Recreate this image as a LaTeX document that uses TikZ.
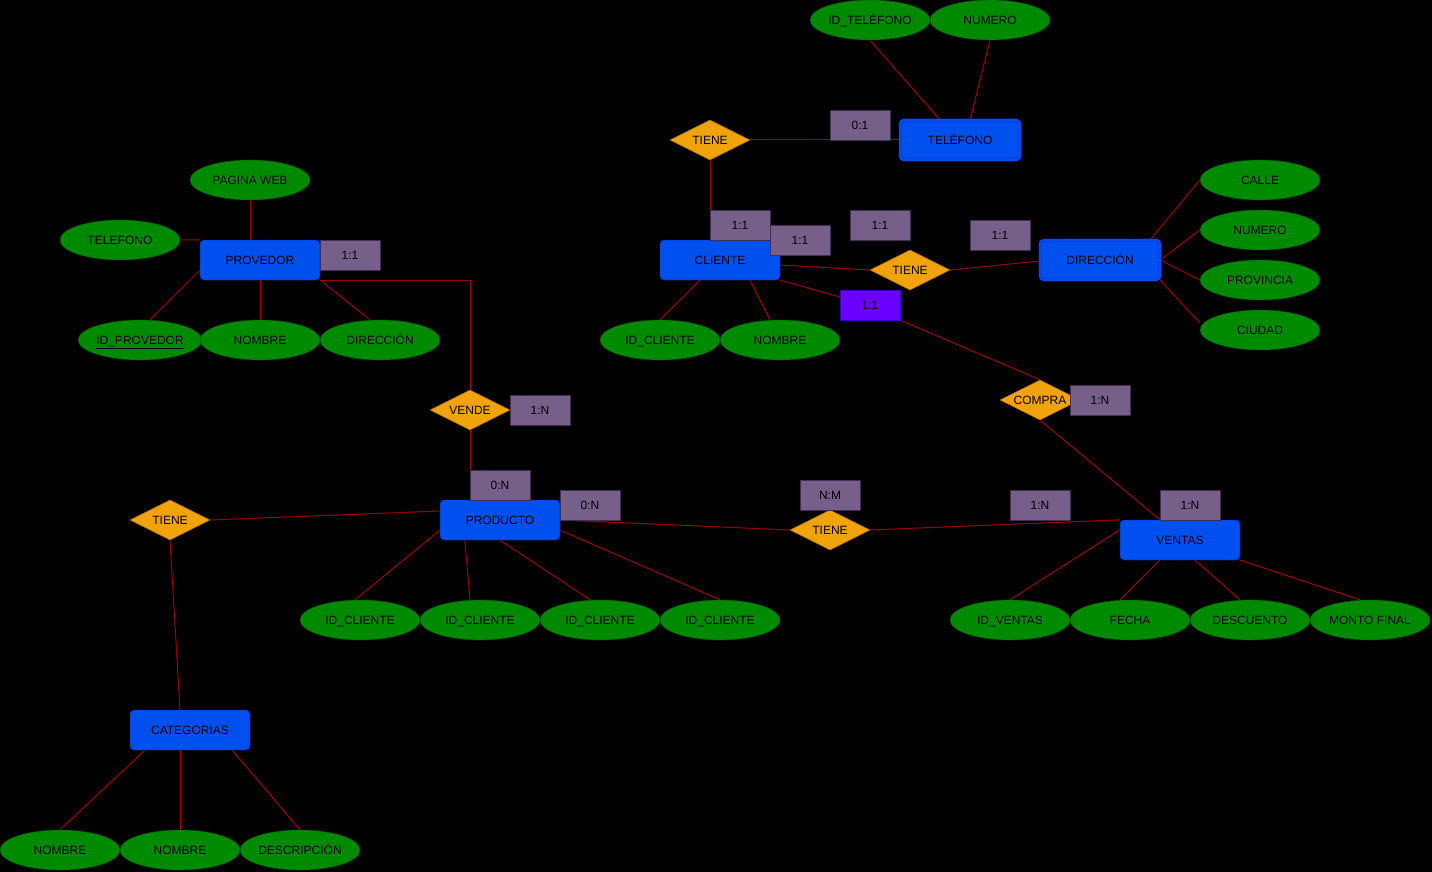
\documentclass[tikz,border=0pt]{standalone}
\usepackage{fontspec}
\setmainfont{Liberation Sans}
\usepackage{tikz}
\usetikzlibrary{shapes.geometric,backgrounds}
\definecolor{entfill}{HTML}{0050EF}
\definecolor{entdraw}{HTML}{001DBC}
\definecolor{attfill}{HTML}{008A00}
\definecolor{attdraw}{HTML}{005700}
\definecolor{relfill}{HTML}{F0A30A}
\definecolor{reldraw}{HTML}{BD7000}
\definecolor{cardfill}{HTML}{76608A}
\definecolor{carddraw}{HTML}{432D57}
\definecolor{hotfill}{HTML}{6A00FF}
\definecolor{hotdraw}{HTML}{3700CC}
\definecolor{linkred}{HTML}{A00000}
\newcommand{\rname}[1]{\makebox[0pt]{#1}}

\begin{document}
\begin{tikzpicture}[
  x=1pt, y=-1pt,
  every node/.style={font=\fontsize{12}{14}\selectfont, text=black, text height=8.6pt, text depth=0pt},
  entity/.style={draw=entdraw, fill=entfill, rounded corners=4pt, minimum width=120pt, minimum height=40pt, inner sep=0pt},
  weak/.style={entity, double=entfill, double distance=2pt},
  attr/.style={ellipse, draw=attdraw, fill=attfill, minimum width=120pt, minimum height=40pt, inner sep=0pt},
  rel/.style={diamond, draw=reldraw, fill=relfill, minimum width=80pt, minimum height=40pt, inner sep=0pt},
  card/.style={draw=carddraw, fill=cardfill, minimum width=60pt, minimum height=30pt, inner sep=0pt},
  hot/.style={card, draw=hotdraw, fill=hotfill},
  link/.style={draw=linkred, line width=1pt}
]
\useasboundingbox (0,0) rectangle (1432,872);

% Entities
\node[entity] (provedor) at (260,260) {PROVEDOR};
\node[entity] (producto) at (500,520) {PRODUCTO};
\node[entity] (cliente) at (720,260) {CLIENTE};
\node[weak] (telefono) at (960,140) {TELÉFONO};
\node[weak] (direccion) at (1100,260) {DIRECCIÓN};
\node[entity] (ventas) at (1180,540) {VENTAS};
\node[entity] (categorias) at (190,730) {CATEGORIAS};

% Relations
\node[rel] (tieneTel) at (710,140) {\rname{TIENE}};
\node[rel] (tieneDir) at (910,270) {\rname{TIENE}};
\node[rel] (vende) at (470,410) {\rname{VENDE}};
\node[rel] (compra) at (1040,400) {\rname{COMPRA}};
\node[rel] (tieneProd) at (830,530) {\rname{TIENE}};
\node[rel] (tieneCat) at (170,520) {\rname{TIENE}};

% Attributes
\node[attr] (aPagina) at (250,180) {PAGINA WEB};
\node[attr] (aTelefono) at (120,240) {TELEFONO};
\node[attr] (aIdProv) at (140,340) {\underline{ID\_PROVEDOR}};
\node[attr] (aNomProv) at (260,340) {NOMBRE};
\node[attr] (aDirProv) at (380,340) {DIRECCIÓN};
\node[attr] (aIdTel) at (870,20) {ID\_TELÉFONO};
\node[attr] (aNumTel) at (990,20) {NUMERO};
\node[attr] (aIdCli) at (660,340) {ID\_CLIENTE};
\node[attr] (aNomCli) at (780,340) {NOMBRE};
\node[attr] (aCalle) at (1260,180) {CALLE};
\node[attr] (aNumero) at (1260,230) {NUMERO};
\node[attr] (aProvincia) at (1260,280) {PROVINCIA};
\node[attr] (aCiudad) at (1260,330) {CIUDAD};
\node[attr] (aIdProd1) at (360,620) {ID\_CLIENTE};
\node[attr] (aIdProd2) at (480,620) {ID\_CLIENTE};
\node[attr] (aIdProd3) at (600,620) {ID\_CLIENTE};
\node[attr] (aIdProd4) at (720,620) {ID\_CLIENTE};
\node[attr] (aIdVen) at (1010,620) {ID\_VENTAS};
\node[attr] (aFecha) at (1130,620) {FECHA};
\node[attr] (aDesc) at (1250,620) {DESCUENTO};
\node[attr] (aMonto) at (1370,620) {MONTO FINAL};
\node[attr] (aNomCat1) at (60,850) {NOMBRE};
\node[attr] (aNomCat2) at (180,850) {NOMBRE};
\node[attr] (aDescCat) at (300,850) {DESCRIPCIÓN};

% Cardinalities
\node[card] (cTel) at (860,125) {0:1};
\node[card] (cCli1) at (740,225) {1:1};
\node[card] (cCli2) at (800,240) {1:1};
\node[card] (cDir1) at (880,225) {1:1};
\node[card] (cDir2) at (1000,235) {1:1};
\node[hot] (cCompraCli) at (870,305) {1:1};
\node[card] (cProv) at (350,255) {1:1};
\node[card] (cVende) at (540,410) {1:N};
\node[card] (cProd1) at (500,485) {0:N};
\node[card] (cProd2) at (590,505) {0:N};
\node[card] (cNM) at (830,495) {N:M};
\node[card] (cCompra) at (1100,400) {1:N};
\node[card] (cVen1) at (1040,505) {1:N};
\node[card] (cVen2) at (1190,505) {1:N};

\begin{scope}[on background layer]
\fill[black] (0,0) rectangle (1432,872);
% Links
\draw[link] ([xshift=-10pt]provedor.north) -- (aPagina.south);
\draw[link] (aTelefono.east) -- (provedor.north west);
\draw[link] ([yshift=10pt]provedor.south west) -- ([xshift=10pt]aIdProv.north);
\draw[link] (provedor.south) -- (aNomProv.north);
\draw[link] (provedor.south east) -- ([xshift=-10pt]aDirProv.north);
\draw[link] (provedor.south east) -| (vende.north);
\draw[link] (vende.south) -- ([xshift=-30pt]producto.north);
\draw[link] (tieneCat.east) -- ([yshift=9pt]producto.west);
\draw[link] (tieneCat.south) -- ([xshift=-10pt]categorias.north);
\draw[link] ([xshift=15pt]categorias.south west) -- (aNomCat1.north);
\draw[link] ([xshift=-10pt]categorias.south) -- (aNomCat2.north);
\draw[link] ([xshift=-18pt]categorias.south east) -- (aDescCat.north);
\draw[link] ([yshift=10pt]producto.south west) -- ([xshift=-5pt]aIdProd1.north);
\draw[link] ([xshift=25pt]producto.south west) -- ([xshift=-10pt]aIdProd2.north);
\draw[link] (producto.south) -- ([xshift=-10pt]aIdProd3.north);
\draw[link] ([yshift=10pt]producto.south east) -- (aIdProd4.north);
\draw[link] (producto.east) -- (tieneProd.west);
\draw[link] (tieneProd.east) -- (ventas.north west);
\draw[link] (compra.south) -- ([xshift=-20pt]ventas.north);
\draw[link] ([yshift=-10pt]ventas.north west) -- (aIdVen.north);
\draw[link] ([xshift=40pt]ventas.south west) -- ([xshift=-10pt]aFecha.north);
\draw[link] ([xshift=15pt]ventas.south) -- ([xshift=-10pt]aDesc.north);
\draw[link] (ventas.south east) -- ([xshift=-10pt]aMonto.north);
\draw[link] (cliente.south east) -- ([yshift=8pt]cCompraCli.west);
\draw[link] (cCompraCli.south east) -- (compra.north);
\draw[link] ([yshift=-5pt]cliente.east) -- (tieneDir.west);
\draw[link] (tieneDir.east) -- ([yshift=-1pt]direccion.west);
\draw[link] (tieneTel.east) -- (telefono.west);
\draw[link] (tieneTel.south) -- ([xshift=-10pt]cliente.north);
\draw[link] ([xshift=-20pt]cliente.south) -- (aIdCli.north);
\draw[link] ([xshift=30pt]cliente.south) -- ([xshift=-10pt]aNomCli.north);
\draw[link] ([xshift=-20pt]telefono.north) -- (aIdTel.south);
\draw[link] ([xshift=10pt]telefono.north) -- (aNumTel.south);
\draw[link] ([xshift=-10pt]direccion.north east) -- (aCalle.west);
\draw[link] (direccion.east) -- (aNumero.west);
\draw[link] (direccion.east) -- (aProvincia.west);
\draw[link] (direccion.south east) -- ([yshift=7pt]aCiudad.west);
\end{scope}
\end{tikzpicture}
\end{document}
